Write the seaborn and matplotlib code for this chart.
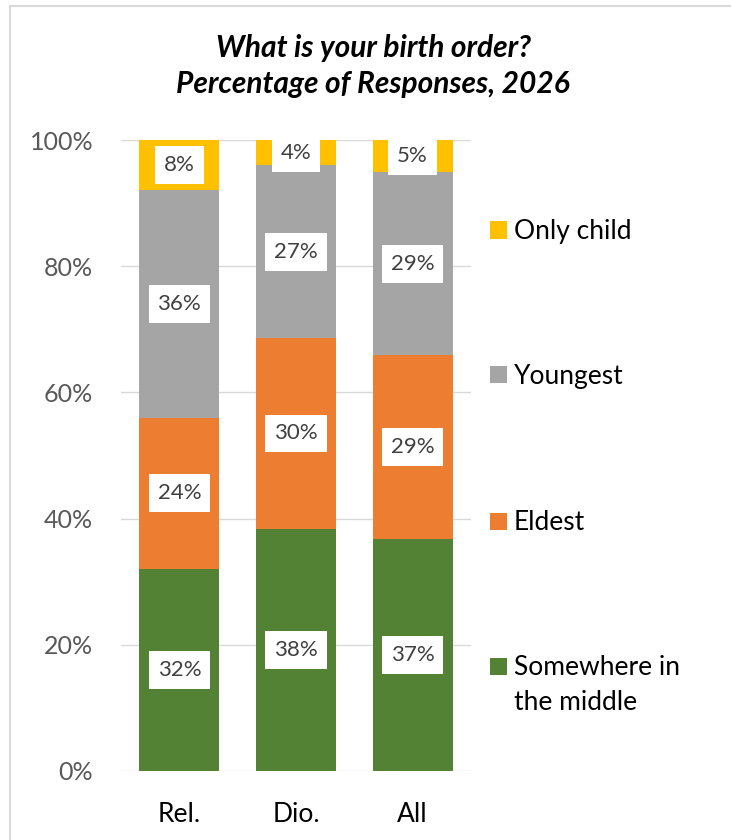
import matplotlib
matplotlib.use("Agg")
import matplotlib.pyplot as plt
from matplotlib.patches import Rectangle
from matplotlib.lines import Line2D
import numpy as np
import pandas as pd
import seaborn as sns

# Data (percent of responses)
categories = ["Rel.", "Dio.", "All"]
series_names = ["Somewhere in the middle", "Eldest", "Youngest", "Only child"]
middle = [32.0, 38.4, 36.8]
eldest = [24.0, 30.2, 29.1]
youngest = [36.0, 27.4, 29.0]
only_child = [8.0, 4.0, 5.1]
yticks = [0, 20, 40, 60, 80, 100]

colors = {
    "Somewhere in the middle": "#548235",
    "Eldest": "#ED7D31",
    "Youngest": "#A5A5A5",
    "Only child": "#FFC000",
}

W, H = 731, 840


def fx(px):
    return px / W


def fy(py):
    return 1 - py / H


sns.set_style("white")
plt.rcParams["font.family"] = ["Lato", "DejaVu Sans"]

df = pd.DataFrame({
    "category": categories,
    "Somewhere in the middle": middle,
    "Eldest": eldest,
    "Youngest": youngest,
    "Only child": only_child,
})
cum = df[series_names].cumsum(axis=1)

fig = plt.figure(figsize=(W / 100, H / 100), dpi=100)
ax = fig.add_axes([fx(121), fy(771), (471 - 121) / W, (771 - 140) / H])

# stacked bars: draw cumulative totals from the top segment down
for name in reversed(series_names):
    sns.barplot(x=df["category"], y=cum[name], color=colors[name],
                width=0.685, linewidth=0, saturation=1, ax=ax)

# value labels
for i in range(len(categories)):
    bottom = 0
    for name in series_names:
        val = df.loc[i, name]
        ax.text(i, bottom + val / 2, f"{round(val)}%", ha="center", va="center",
                fontsize=16, color="#404040",
                bbox=dict(boxstyle="square,pad=0.4", fc="white", ec="none"))
        bottom += val

ax.set_ylim(0, 100)
ax.set_xlim(-0.5, 2.5)
ax.set_yticks(yticks)
ax.set_yticklabels([f"{t}%" for t in yticks])
ax.set_xlabel("")
ax.set_ylabel("")
ax.tick_params(axis="y", length=0, pad=20, labelsize=18, labelcolor="#595959")
ax.tick_params(axis="x", length=0, pad=22, labelsize=19, labelcolor="black")
ax.yaxis.grid(True, color="#D9D9D9", linewidth=1.0)
ax.set_axisbelow(True)
sns.despine(ax=ax, left=True, bottom=True)

# title
fig.text(fx(373), fy(57), "What is your birth order?", ha="center", va="baseline",
         fontsize=21.5, fontweight="bold", fontstyle="italic", color="black")
fig.text(fx(373), fy(93), "Percentage of Responses, 2026", ha="center", va="baseline",
         fontsize=21.5, fontweight="bold", fontstyle="italic", color="black")

# legend
legend_rows = [("Only child", 230), ("Youngest", 375), ("Eldest", 521),
               ("Somewhere in the middle", 666)]
for name, yc in legend_rows:
    fig.add_artist(Rectangle((fx(490), fy(yc + 8.5)), 17 / W, 17 / H,
                             transform=fig.transFigure, color=colors[name], lw=0))
    lines = ["Somewhere in", "the middle"] if name == "Somewhere in the middle" else [name]
    for k, line in enumerate(lines):
        fig.text(fx(514), fy(yc + 9 + 35 * k), line, ha="left", va="baseline",
                 fontsize=19, color="black")

# chart frame (top and left edges visible)
fig.add_artist(Line2D([fx(10), 1], [fy(6), fy(6)], transform=fig.transFigure,
                      color="#D9D9D9", lw=1.5))
fig.add_artist(Line2D([fx(10), fx(10)], [fy(6), 0], transform=fig.transFigure,
                      color="#D9D9D9", lw=1.5))

fig.savefig("out.png", dpi=100, facecolor="white")
